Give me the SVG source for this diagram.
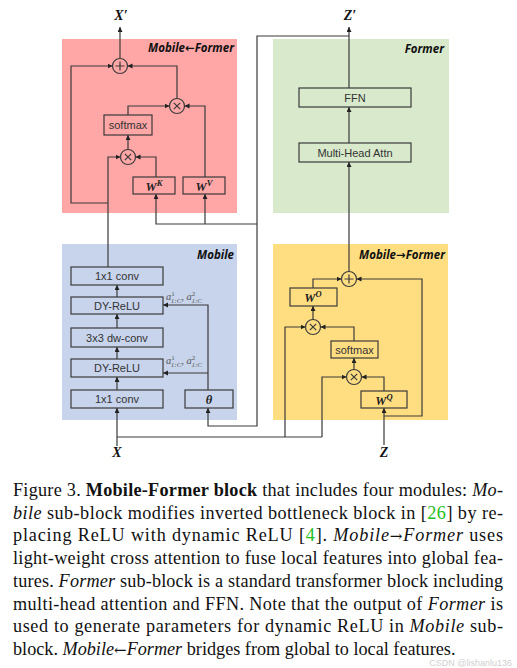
<svg xmlns="http://www.w3.org/2000/svg" width="517" height="668" viewBox="0 0 517 668">
<style>
.bx{fill:none;stroke:#3a3a3a;stroke-width:1.2}
.c{fill:none;stroke:#3a3a3a;stroke-width:1.2}
.ln{fill:none;stroke:#3a3a3a;stroke-width:1.2;marker-end:url(#ah)}
.pl{fill:none;stroke:#3a3a3a;stroke-width:1.2}
.lb{font-family:"Liberation Sans",Arial,sans-serif;font-size:11px;fill:#333;text-anchor:middle}
.tt{font-family:"Open Sans","Liberation Sans",sans-serif;font-size:11.5px;font-weight:bold;font-style:italic;fill:#111;text-anchor:end}
.ar{font-family:"DejaVu Sans",sans-serif;font-style:normal}
.w{font-family:"Liberation Serif","Times New Roman",serif;font-size:12.5px;font-weight:bold;font-style:italic;fill:#222;text-anchor:middle}
.io{font-family:"Liberation Serif","Times New Roman",serif;font-size:14px;font-weight:bold;font-style:italic;fill:#111;text-anchor:middle}
.al{font-family:"Liberation Serif","Times New Roman",serif;font-size:10.5px;font-style:italic;fill:#555}
.cap{font-family:"Liberation Serif","Times New Roman",serif;font-size:18.2px;fill:#111}
.g{fill:#22c022}
</style>
<defs>
<marker id="ah" markerUnits="userSpaceOnUse" markerWidth="6" markerHeight="6" refX="5" refY="2.5" orient="auto">
<path d="M0,0 L5,2.5 L0,5 z" fill="#222"/>
</marker>
</defs>

<g id="regions">
<rect id="region-mobile-former-back" x="62" y="39" width="175" height="174" fill="#FFA6A6"/>
<rect id="region-former" x="273" y="39" width="176" height="174" fill="#D8E9CC"/>
<rect id="region-mobile" x="62" y="244" width="175" height="176" fill="#C7D4EC"/>
<rect id="region-mobile-to-former" x="273" y="244" width="175" height="176" fill="#FFDE82"/>
<text class="tt" x="234" y="52">Mobile<tspan class="ar" font-weight="bold">←</tspan>Former</text>
<text class="tt" x="444" y="53">Former</text>
<text class="tt" x="234" y="259">Mobile</text>
<text class="tt" x="445" y="259">Mobile<tspan class="ar" font-weight="bold">→</tspan>Former</text>
</g>

<g id="connectors">
<line class="ln" x1="120" y1="58.5" x2="120" y2="27"/>
<path class="ln" d="M177,98.5 V66 H127.5"/>
<path class="ln" d="M128,115 V106 H169.5"/>
<path class="ln" d="M128,149.5 V135"/>
<path class="ln" d="M156,177 V157 H135.5"/>
<path class="ln" d="M205,177 V106 H184.5"/>
<path class="ln" d="M108,267 V157 H120.5"/>
<path class="ln" d="M108,203 H71 V66 H112.5"/>
<path class="ln" d="M349,36 H257 V426 H208 V408"/>
<path class="ln" d="M257,224 H156 V194"/>
<path class="ln" d="M205,224 V194"/>
<path class="ln" d="M349,88 V27"/>
<path class="ln" d="M349,143 V107"/>
<path class="ln" d="M349,271.5 V162"/>
<path class="ln" d="M313,288 V279 H341.5"/>
<path class="ln" d="M313,319.5 V306"/>
<path class="ln" d="M354,341 V327 H320.5"/>
<path class="ln" d="M354,369.5 V358"/>
<path class="ln" d="M384,391 V377 H361.5"/>
<path class="ln" d="M285,437 V327 H305.5"/>
<path class="ln" d="M322,437 V377 H346.5"/>
<path class="ln" d="M384,445 V408"/>
<path class="ln" d="M384,416 H422 V279 H356.5"/>
<path class="ln" d="M117,446 V408"/>
<path class="pl" d="M117,437 H322"/>
<path class="ln" d="M117,390 V377"/>
<path class="ln" d="M117,359 V347"/>
<path class="ln" d="M117,328 V314"/>
<path class="ln" d="M117,297 V285"/>
<path class="ln" d="M208,390 V305 H163"/>
<path class="ln" d="M208,373 H163"/>
</g>

<g id="node-x-prime"><text class="io" x="121" y="20">X′</text></g>
<g id="node-z-prime"><text class="io" x="350" y="20">Z′</text></g>
<g id="node-x"><text class="io" x="117" y="457">X</text></g>
<g id="node-z"><text class="io" x="384" y="457">Z</text></g>

<g id="node-plus1"><circle class="c" cx="120" cy="66" r="7.5"/><path class="pl" d="M115.5,66 H124.5 M120,61.5 V70.5"/></g>
<g id="node-mult1"><circle class="c" cx="177" cy="106" r="7.5"/><path class="pl" d="M173.8,102.8 L180.2,109.2 M180.2,102.8 L173.8,109.2"/></g>
<g id="node-softmax1"><rect class="bx" x="104" y="115" width="48" height="20"/><text class="lb" x="128" y="129">softmax</text></g>
<g id="node-mult2"><circle class="c" cx="128" cy="157" r="7.5"/><path class="pl" d="M124.8,153.8 L131.2,160.2 M131.2,153.8 L124.8,160.2"/></g>
<g id="node-wk"><rect class="bx" x="133" y="177" width="42" height="17"/><text class="w" x="154" y="190.5">W<tspan font-size="8.5" dy="-4.5">K</tspan></text></g>
<g id="node-wv"><rect class="bx" x="183" y="177" width="42" height="17"/><text class="w" x="204" y="190.5">W<tspan font-size="8.5" dy="-4.5">V</tspan></text></g>

<g id="node-ffn"><rect class="bx" x="299" y="88" width="112" height="19"/><text class="lb" x="355" y="102">FFN</text></g>
<g id="node-mha"><rect class="bx" x="299" y="143" width="112" height="19"/><text class="lb" x="355" y="157">Multi-Head Attn</text></g>

<g id="node-conv1-top"><rect class="bx" x="71" y="267" width="92" height="18"/><text class="lb" x="117" y="280">1x1 conv</text></g>
<g id="node-dyrelu1"><rect class="bx" x="71" y="297" width="92" height="17"/><text class="lb" x="117" y="310">DY-ReLU</text></g>
<g id="node-dwconv"><rect class="bx" x="71" y="328" width="92" height="19"/><text class="lb" x="117" y="341.5">3x3 dw-conv</text></g>
<g id="node-dyrelu2"><rect class="bx" x="71" y="359" width="92" height="18"/><text class="lb" x="117" y="372">DY-ReLU</text></g>
<g id="node-conv1-bottom"><rect class="bx" x="71" y="390" width="92" height="18"/><text class="lb" x="117" y="403">1x1 conv</text></g>
<g id="node-theta"><rect class="bx" x="185" y="390" width="48" height="18"/><text class="w" x="209" y="403.5">θ</text></g>
<g id="label-a1"><text class="al" x="166" y="300">a<tspan font-size="7" dy="-4" font-style="normal">1</tspan><tspan font-size="7" dx="-3.9" dy="6.5">1:C</tspan><tspan dy="-2.5">, a</tspan><tspan font-size="7" dy="-4" font-style="normal">2</tspan><tspan font-size="7" dx="-3.9" dy="6.5">1:C</tspan></text></g>
<g id="label-a2"><text class="al" x="166" y="364">a<tspan font-size="7" dy="-4" font-style="normal">1</tspan><tspan font-size="7" dx="-3.9" dy="6.5">1:C</tspan><tspan dy="-2.5">, a</tspan><tspan font-size="7" dy="-4" font-style="normal">2</tspan><tspan font-size="7" dx="-3.9" dy="6.5">1:C</tspan></text></g>

<g id="node-plus2"><circle class="c" cx="349" cy="279" r="7.5"/><path class="pl" d="M344.5,279 H353.5 M349,274.5 V283.5"/></g>
<g id="node-wo"><rect class="bx" x="290" y="288" width="47" height="18"/><text class="w" x="313" y="301.5">W<tspan font-size="8.5" dy="-4.5">O</tspan></text></g>
<g id="node-mult3"><circle class="c" cx="313" cy="327" r="7.5"/><path class="pl" d="M309.8,323.8 L316.2,330.2 M316.2,323.8 L309.8,330.2"/></g>
<g id="node-softmax2"><rect class="bx" x="331" y="341" width="47" height="17"/><text class="lb" x="354.5" y="354">softmax</text></g>
<g id="node-mult4"><circle class="c" cx="354" cy="377" r="7.5"/><path class="pl" d="M350.8,373.8 L357.2,380.2 M357.2,373.8 L350.8,380.2"/></g>
<g id="node-wq"><rect class="bx" x="361" y="391" width="46" height="17"/><text class="w" x="384" y="404.5">W<tspan font-size="8.5" dy="-4.5">Q</tspan></text></g>

<g id="caption">
<text class="cap" x="13" y="496" textLength="490" lengthAdjust="spacing">Figure 3. <tspan font-weight="bold">Mobile-Former block</tspan> that includes four modules: <tspan font-style="italic">Mo-</tspan></text>
<text class="cap" x="13" y="518.7" textLength="490" lengthAdjust="spacing"><tspan font-style="italic">bile</tspan> sub-block modifies inverted bottleneck block in [<tspan class="g">26</tspan>] by re-</text>
<text class="cap" x="13" y="541.4" textLength="490" lengthAdjust="spacing">placing ReLU with dynamic ReLU [<tspan class="g">4</tspan>].  <tspan font-style="italic">Mobile<tspan font-family="DejaVu Serif" font-style="normal" font-size="15">→</tspan>Former</tspan> uses</text>
<text class="cap" x="13" y="564.1" textLength="490" lengthAdjust="spacing">light-weight cross attention to fuse local features into global fea-</text>
<text class="cap" x="13" y="586.8" textLength="490" lengthAdjust="spacing">tures. <tspan font-style="italic">Former</tspan> sub-block is a standard transformer block including</text>
<text class="cap" x="13" y="609.5" textLength="490" lengthAdjust="spacing">multi-head attention and FFN. Note that the output of <tspan font-style="italic">Former</tspan> is</text>
<text class="cap" x="13" y="632.2" textLength="490" lengthAdjust="spacing">used to generate parameters for dynamic ReLU in <tspan font-style="italic">Mobile</tspan> sub-</text>
<text class="cap" x="13" y="655">block. <tspan font-style="italic">Mobile<tspan font-family="DejaVu Serif" font-style="normal" font-size="15">←</tspan>Former</tspan> bridges from global to local features.</text>
<text x="512" y="666" text-anchor="end" font-family="Liberation Sans,sans-serif" font-size="9" fill="#d0d0d0">CSDN @lishanlu136</text>
</g>
</svg>
